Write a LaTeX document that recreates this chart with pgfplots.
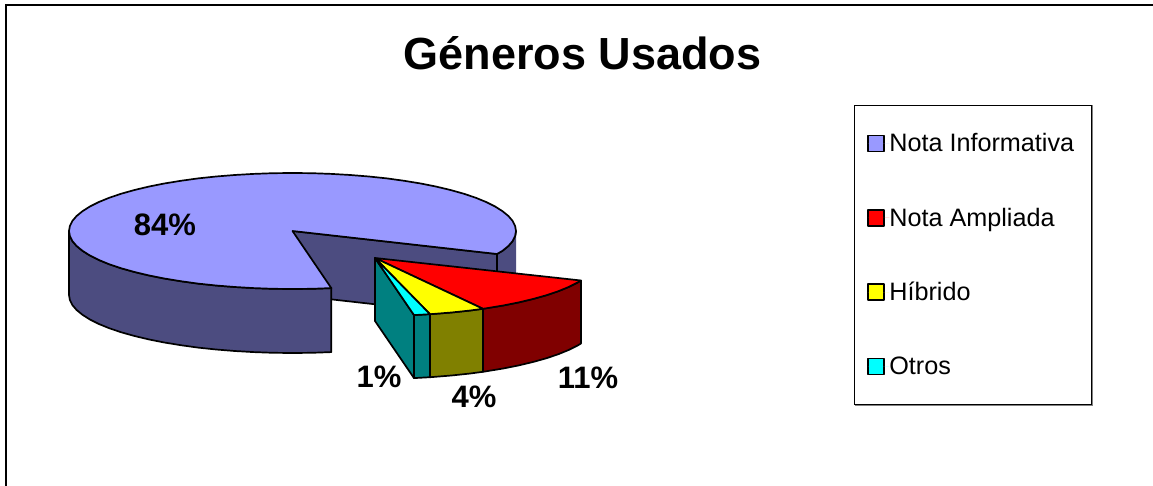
\documentclass[border=0pt]{standalone}
\usepackage{pgfplots}
\pgfplotsset{compat=1.18}
\usepackage{fontspec}
\setmainfont{Liberation Sans}
\definecolor{lav}{HTML}{9999FF}
\definecolor{lavd}{HTML}{4C4C80}
\definecolor{redd}{HTML}{800000}
\definecolor{oliv}{HTML}{808000}
\definecolor{teald}{HTML}{008080}
\definecolor{rd}{HTML}{FF0000}
\definecolor{yl}{HTML}{FFFF00}
\definecolor{cy}{HTML}{00FFFF}
\begin{document}
\begin{tikzpicture}
\useasboundingbox (0,0) rectangle (1153pt,486pt);
\begin{axis}[
  at={(0pt,0pt)},anchor=south west,
  width=1153pt,height=486pt,scale only axis,
  xmin=0,xmax=1153,ymin=0,ymax=486,y dir=reverse,
  hide axis,clip=false,
  every axis plot/.append style={draw=black,line width=1.7pt,line join=round},
  legend cell align=left,
  legend image code/.code={\draw[#1,line width=1.7pt] (0pt,-8pt) rectangle (16pt,8pt);\path[draw=none] (0pt,0pt) -- (21.5pt,0pt);},
  legend style={at={(axis cs:854,105)},anchor=north west,draw=black,line width=1pt,
    font=\fontsize{25.2}{25.2}\selectfont,
    row sep=45.3pt,inner xsep=12.5pt,inner ysep=23.5pt,
    nodes={inner sep=0pt,minimum height=29pt,anchor=west}},
]
% main slice, inner wall
\addplot[fill=lavd,forget plot] coordinates {(292.5,231)(497,254)(497,318)(292.5,295)};
% main slice, right rim
\addplot[fill=lavd,forget plot] coordinates {(516,231)(515.1,236.1)(512.6,241.1)(508.4,246)(502.5,250.8)(497,254)(497,318)(502.5,314.8)(508.4,310)(512.6,305.1)(515.1,300.1)(516,295)};
% main slice, front rim
\addplot[fill=lavd,forget plot] coordinates {(331.3,288.1)(312,288.8)(292.5,289)(273,288.8)(253.7,288.1)(234.7,287)(216.1,285.5)(198,283.6)(180.8,281.2)(164.3,278.5)(148.8,275.4)(134.5,272)(121.3,268.3)(109.4,264.3)(98.9,260)(89.9,255.5)(82.5,250.8)(76.6,246)(72.4,241.1)(69.9,236.1)(69,231)(69,295)(69.9,300.1)(72.4,305.1)(76.6,310)(82.5,314.8)(89.9,319.5)(98.9,324)(109.4,328.3)(121.3,332.3)(134.5,336)(148.8,339.4)(164.3,342.5)(180.8,345.2)(198,347.6)(216.1,349.5)(234.7,351)(253.7,352.1)(273,352.8)(292.5,353)(312,352.8)(331.3,352.1)} -- cycle;
% main slice, top
\addplot[fill=lav] coordinates {(292.5,231)(331.3,288.1)(312,288.8)(292.5,289)(273,288.8)(253.7,288.1)(234.7,287)(216.1,285.5)(198,283.6)(180.8,281.2)(164.3,278.5)(148.8,275.4)(134.5,272)(121.3,268.3)(109.4,264.3)(98.9,260)(89.9,255.5)(82.5,250.8)(76.6,246)(72.4,241.1)(69.9,236.1)(69,231)(69.9,225.9)(72.4,220.9)(76.6,216)(82.5,211.2)(89.9,206.5)(98.9,202)(109.4,197.7)(121.3,193.7)(134.5,190)(148.8,186.6)(164.3,183.5)(180.8,180.8)(198,178.4)(216.1,176.5)(234.7,175)(253.7,173.9)(273,173.2)(292.5,173)(312,173.2)(331.3,173.9)(350.3,175)(368.9,176.5)(387,178.4)(404.2,180.8)(420.7,183.5)(436.2,186.6)(450.5,190)(463.7,193.7)(475.6,197.7)(486.1,202)(495.1,206.5)(502.5,211.2)(508.4,216)(512.6,220.9)(515.1,225.9)(516,231)(515.1,236.1)(512.6,241.1)(508.4,246)(502.5,250.8)(497,254)} -- cycle;
\addlegendentry{Nota Informativa\rule{5pt}{0pt}}
% exploded slices, faces
\addplot[fill=teald,forget plot] coordinates {(375,258)(414,315.1)(414,378.1)(375,321)} -- cycle;
\addplot[fill=teald,forget plot] coordinates {(414,315.1)(430,314.2)(430,377.2)(414,378.1)} -- cycle;
\addplot[fill=oliv,forget plot] coordinates {(430,314.2)(432.8,314)(451.4,312.5)(469.5,310.6)(483,308.8)(483,371.8)(469.5,373.6)(451.4,375.5)(432.8,377)(430,377.2)} -- cycle;
\addplot[fill=redd,forget plot] coordinates {(483,308.8)(486.75,308.2)(503.2,305.5)(518.7,302.4)(533,299)(546.2,295.3)(558.1,291.3)(568.6,287)(577.6,282.5)(581,280.5)(581,343.5)(577.6,345.5)(568.6,350)(558.1,354.3)(546.2,358.3)(533,362)(518.7,365.4)(503.2,368.5)(486.75,371.2)(483,371.8)} -- cycle;
% exploded slices, tops
\addplot[fill=rd] coordinates {(375,258)(581,280.5)(577.6,282.5)(568.6,287)(558.1,291.3)(546.2,295.3)(533,299)(518.7,302.4)(503.2,305.5)(486.75,308.2)(483,308.8)} -- cycle;
\addlegendentry{Nota Ampliada}
\addplot[fill=yl] coordinates {(375,258)(483,308.8)(469.5,310.6)(451.4,312.5)(432.8,314)(430,314.2)} -- cycle;
\addlegendentry{Híbrido}
\addplot[fill=cy] coordinates {(375,258)(430,314.2)(414,315.1)} -- cycle;
\addlegendentry{Otros}
% text
\node[font=\bfseries\fontsize{45}{45}\selectfont,anchor=base] at (axis cs:582.5,70) {Géneros Usados};
\node[font=\bfseries\fontsize{31}{31}\selectfont] at (axis cs:165,225) {84\%};
\node[font=\bfseries\fontsize{31}{31}\selectfont] at (axis cs:379,377) {1\%};
\node[font=\bfseries\fontsize{31}{31}\selectfont] at (axis cs:474,397) {4\%};
\node[font=\bfseries\fontsize{31}{31}\selectfont] at (axis cs:588,378) {11\%};
% frame
\draw[black,line width=1.4pt] (axis cs:6,486) -- (axis cs:6,5) -- (axis cs:1153,5);
\draw[gray,line width=1pt] (axis cs:1092.8,105.5) -- (axis cs:1092.8,405.8) -- (axis cs:854.5,405.8);
\end{axis}
\end{tikzpicture}
\end{document}
